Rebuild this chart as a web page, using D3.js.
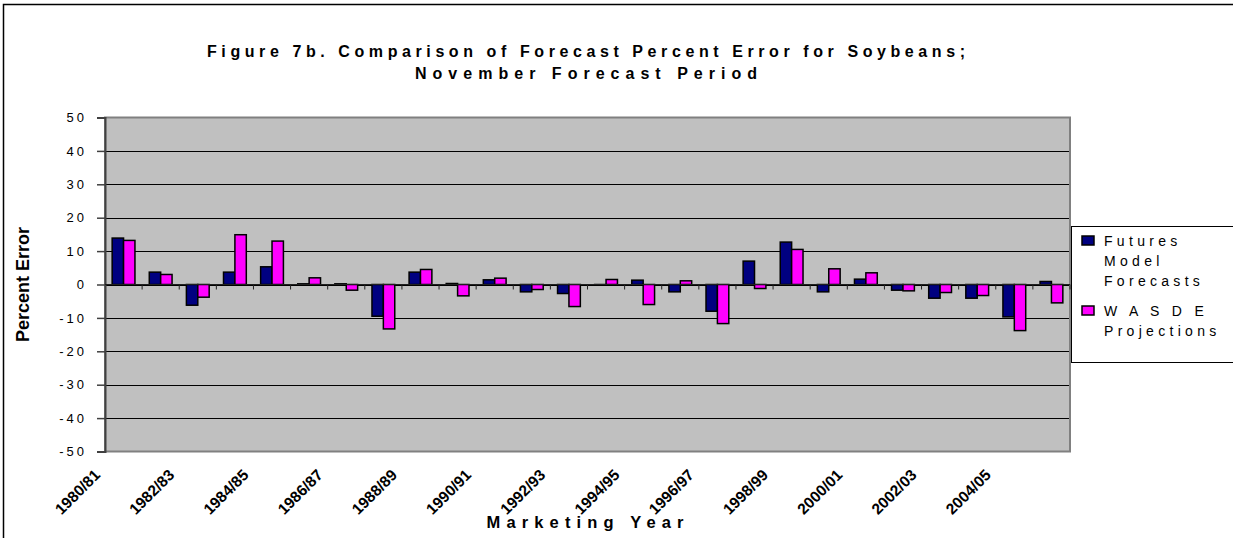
<!DOCTYPE html>
<html>
<head>
<meta charset="utf-8">
<script src="https://cdn.jsdelivr.net/npm/d3@7"></script>
<style>
  body { margin: 0; background: #fff; }
  svg { display: block; font-family: Arial, "Liberation Sans", sans-serif; }
</style>
</head>
<body>
<div id="chart"></div>
<script>
// marketing years (26 categories)
const years = ["1980/81","1981/82","1982/83","1983/84","1984/85","1985/86","1986/87","1987/88",
  "1988/89","1989/90","1990/91","1991/92","1992/93","1993/94","1994/95","1995/96","1996/97",
  "1997/98","1998/99","1999/00","2000/01","2001/02","2002/03","2003/04","2004/05","2005/06"];

// percent error
const futuresErr = [13.9, 3.7, -6.2, 3.7, 5.3, 0.2, 0.2, -9.5, 3.7, 0.3, 1.4, -2.2, -2.7,
  -0.2, 1.3, -2.2, -8.0, 7.0, 12.7, -2.2, 1.6, -1.7, -4.1, -4.1, -9.7, 0.9];
const wasdeErr = [13.2, 3.0, -3.8, 14.9, 13.0, 2.0, -1.7, -13.3, 4.5, -3.4, 1.9, -1.5, -6.6,
  1.5, -6.0, 1.1, -11.7, -1.2, 10.5, 4.7, 3.5, -1.9, -2.4, -3.3, -13.8, -5.5];

const yTicks = [50, 40, 30, 20, 10, 0, -10, -20, -30, -40, -50];

const seriesNames = ["futures", "wasde"];
const seriesColors = { futures: "#000080", wasde: "#ff00ff" };
const legendLines = { futures: ["Futures", "Model", "Forecasts"], wasde: ["W A S D E", "Projections"] };

const width = 1233, height = 538;
const plot = { left: 105, right: 1070, top: 117.5, bottom: 451.5 };

const svg = d3.select("#chart").append("svg")
  .attr("width", width)
  .attr("height", height);

// outer chart frame
svg.append("rect")
  .attr("x", 3.5).attr("y", 4.5)
  .attr("width", width + 10).attr("height", height + 10)
  .attr("fill", "none").attr("stroke", "#000").attr("stroke-width", 1.5);

const x0 = d3.scaleBand().domain(years).range([plot.left, plot.right]);
const bw = x0.bandwidth();
const x1 = d3.scaleBand().domain(seriesNames).range([bw * 0.193, bw * 0.807]);
const y = d3.scaleLinear().domain([-50, 50]).range([plot.bottom, plot.top]);

// plot background
svg.append("rect")
  .attr("x", plot.left).attr("y", plot.top)
  .attr("width", plot.right - plot.left).attr("height", plot.bottom - plot.top)
  .attr("fill", "#c0c0c0");

// gridlines
svg.append("g").selectAll("line")
  .data(yTicks.filter(d => d !== 50 && d !== -50))
  .enter().append("line")
  .attr("x1", plot.left).attr("x2", plot.right)
  .attr("y1", d => Math.round(y(d)) + 0.5).attr("y2", d => Math.round(y(d)) + 0.5)
  .attr("stroke", "#000").attr("stroke-width", 1);

// plot border
svg.append("rect")
  .attr("x", plot.left).attr("y", plot.top)
  .attr("width", plot.right - plot.left).attr("height", plot.bottom - plot.top)
  .attr("fill", "none").attr("stroke", "#808080").attr("stroke-width", 2);

// y axis
const yAxis = svg.append("g")
  .attr("transform", `translate(${plot.left},0)`)
  .call(d3.axisLeft(y).tickValues(yTicks).tickSize(8).tickPadding(10).tickFormat(d => String(d)));
yAxis.select(".domain").attr("stroke", "#404040").attr("stroke-width", 2);
yAxis.selectAll(".tick line").attr("stroke", "#404040").attr("stroke-width", 1.5);
yAxis.selectAll(".tick text")
  .attr("font-size", 13).attr("fill", "#000")
  .attr("letter-spacing", "3px")
  .attr("font-family", "Arial, 'Liberation Sans', sans-serif");

// bars
const groups = svg.append("g").selectAll("g")
  .data(years)
  .enter().append("g")
  .attr("transform", d => `translate(${x0(d)},0)`);

groups.selectAll("rect")
  .data((d, i) => [
    { key: "futures", value: futuresErr[i] },
    { key: "wasde", value: wasdeErr[i] }
  ])
  .enter().append("rect")
  .attr("x", d => x1(d.key))
  .attr("y", d => y(Math.max(0, d.value)))
  .attr("width", x1.bandwidth())
  .attr("height", d => Math.abs(y(d.value) - y(0)))
  .attr("fill", d => seriesColors[d.key])
  .attr("stroke", "#000")
  .attr("stroke-width", 1.5);

// category axis on the zero line
const zeroY = y(0);
svg.append("line")
  .attr("x1", plot.left).attr("x2", plot.right)
  .attr("y1", zeroY).attr("y2", zeroY)
  .attr("stroke", "#202020").attr("stroke-width", 1);
svg.append("g").selectAll("line")
  .data(years)
  .enter().append("line")
  .attr("x1", d => x0(d) + bw).attr("x2", d => x0(d) + bw)
  .attr("y1", zeroY).attr("y2", zeroY + 5)
  .attr("stroke", "#202020").attr("stroke-width", 1);

// rotated year labels, every other year
svg.append("g").selectAll("text")
  .data(years.filter((d, i) => i % 2 === 0))
  .enter().append("text")
  .attr("transform", d => `translate(${x0(d) + bw / 2 - 22.5},476) rotate(-45)`)
  .attr("text-anchor", "end")
  .attr("font-size", 15.5)
  .attr("font-weight", "bold")
  .text(d => d);

// titles
svg.append("text")
  .attr("x", 586).attr("y", 57)
  .attr("text-anchor", "middle")
  .attr("font-size", 16).attr("font-weight", "bold")
  .attr("textLength", 758).attr("lengthAdjust", "spacing")
  .text("Figure 7b.  Comparison of Forecast Percent Error for Soybeans;");
svg.append("text")
  .attr("x", 586).attr("y", 79)
  .attr("text-anchor", "middle")
  .attr("font-size", 16).attr("font-weight", "bold")
  .attr("textLength", 342).attr("lengthAdjust", "spacing")
  .text("November Forecast Period");

svg.append("text")
  .attr("x", 585).attr("y", 528)
  .attr("text-anchor", "middle")
  .attr("font-size", 16.5).attr("font-weight", "bold")
  .attr("textLength", 197).attr("lengthAdjust", "spacing")
  .text("Marketing Year");

svg.append("text")
  .attr("transform", `translate(29,${(plot.top + plot.bottom) / 2}) rotate(-90)`)
  .attr("text-anchor", "middle")
  .attr("font-size", 18).attr("font-weight", "bold")
  .text("Percent Error");

// legend
const legend = svg.append("g");
legend.append("rect")
  .attr("x", 1071.5).attr("y", 226.5)
  .attr("width", 200).attr("height", 136)
  .attr("fill", "#fff").attr("stroke", "#000").attr("stroke-width", 1);

const legendTop = { futures: 246, wasde: 316 };
seriesNames.forEach(key => {
  const base = legendTop[key];
  legend.append("rect")
    .attr("x", 1082).attr("y", base - 10)
    .attr("width", 12).attr("height", 9)
    .attr("fill", seriesColors[key]).attr("stroke", "#000").attr("stroke-width", 1.5);
  legendLines[key].forEach((line, j) => {
    legend.append("text")
      .attr("x", 1104).attr("y", base + j * 20)
      .attr("font-size", 14)
      .attr("letter-spacing", "4.3px")
      .text(line);
  });
});
</script>
</body>
</html>
